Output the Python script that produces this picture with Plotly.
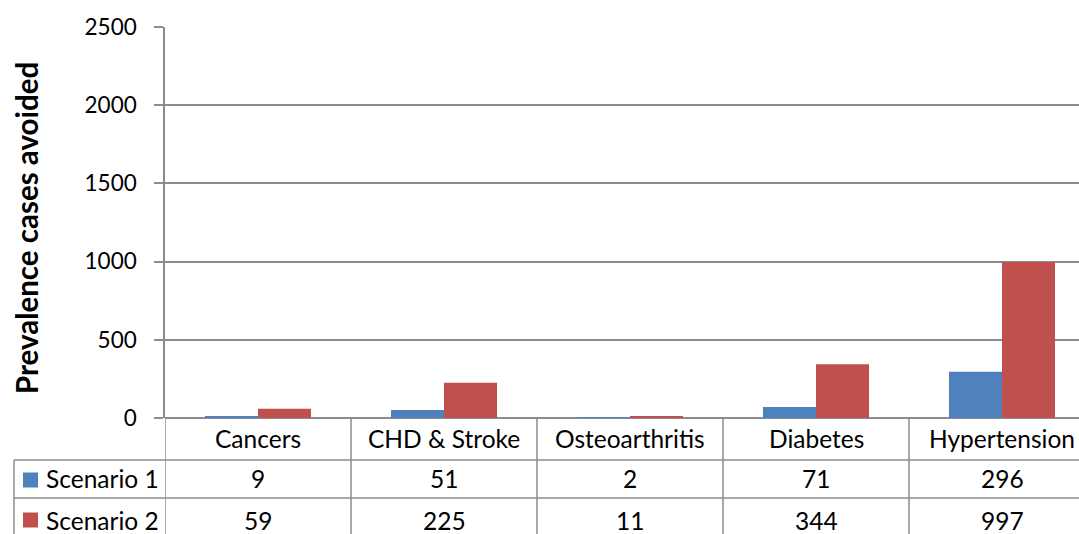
import plotly.graph_objects as go

categories = ["Cancers", "CHD & Stroke", "Osteoarthritis", "Diabetes", "Hypertension"]
series_names = ["Scenario 1", "Scenario 2"]
scenario1 = [9, 51, 2, 71, 296]
scenario2 = [59, 225, 11, 344, 997]
y_ticks = [0, 500, 1000, 1500, 2000, 2500]

colors = ["#4F81BD", "#C0504D"]
grid = "#8C8C8C"
FONT = "Lato"

W, H = 1079, 534
L, R, T, B = 165, 0, 27, 116
PW = W - L - R
PH = H - T - B


def px_to_py(py):
    return (H - B - py) / PH


def px_to_px(px):
    return (px - L) / PW


fig = go.Figure()
for name, vals, c in zip(series_names, [scenario1, scenario2], colors):
    fig.add_trace(go.Bar(x=list(range(len(categories))), y=vals, name=name,
                         marker=dict(color=c, line=dict(width=0)), showlegend=False))

n = len(categories)
xr = [-0.5, -0.5 + PW / 186.0]

shapes = []
line = dict(color=grid, width=1.5)
for py in [460, 498]:
    shapes.append(dict(type="line", xref="paper", yref="paper", x0=px_to_px(14), x1=1,
                       y0=px_to_py(py), y1=px_to_py(py), line=line))
for i in range(n + 1):
    shapes.append(dict(type="line", xref="x", yref="paper", x0=i - 0.5, x1=i - 0.5,
                       y0=0, y1=px_to_py(H + 10), line=line))
shapes.append(dict(type="line", xref="paper", yref="paper", x0=px_to_px(14), x1=px_to_px(14),
                   y0=px_to_py(460), y1=px_to_py(H + 10), line=line))
for j, c in enumerate(colors):
    cy = [480, 520][j]
    shapes.append(dict(type="rect", xref="paper", yref="paper",
                       x0=px_to_px(23), x1=px_to_px(38), y0=px_to_py(cy - 7.5), y1=px_to_py(cy + 7.5),
                       fillcolor=c, line=dict(width=0)))

ann = []
tf = dict(family=FONT, size=24.5, color="#000000")
for i, cat in enumerate(categories):
    ann.append(dict(x=i, y=px_to_py(439), xref="x", yref="paper", text=cat, showarrow=False,
                    xanchor="center", yanchor="middle", font=tf))
for j, vals in enumerate([scenario1, scenario2]):
    cy = [479, 520][j]
    for i, v in enumerate(vals):
        ann.append(dict(x=i, y=px_to_py(cy), xref="x", yref="paper", text=str(v), showarrow=False,
                        xanchor="center", yanchor="middle", font=tf))
    ann.append(dict(x=px_to_px(44), y=px_to_py(cy), xref="paper", yref="paper", text=series_names[j],
                    showarrow=False, xanchor="left", yanchor="middle", font=tf))
ann.append(dict(x=px_to_px(26), y=px_to_py(228), xref="paper", yref="paper",
                text="<b>Prevalence cases avoided</b>", textangle=-90, showarrow=False,
                xanchor="center", yanchor="middle", font=dict(family=FONT, size=29.5, color="#000")))

fig.update_layout(
    width=W, height=H,
    margin=dict(l=L, r=R, t=T, b=B, pad=0),
    paper_bgcolor="white", plot_bgcolor="white",
    barmode="group", bargap=0.43, bargroupgap=0,
    shapes=shapes, annotations=ann,
    font=dict(family=FONT, size=24, color="#000"),
)
fig.update_xaxes(range=xr, showticklabels=False, showgrid=False, zeroline=False,
                 showline=False, ticks="")
fig.update_yaxes(range=[0, 2500], tickvals=y_ticks, ticktext=[str(v) for v in y_ticks],
                 showgrid=True, gridcolor=grid, gridwidth=1.5, zeroline=True,
                 zerolinecolor=grid, zerolinewidth=1.5,
                 showline=True, linecolor=grid, linewidth=1.5,
                 ticks="outside", ticklen=9, tickcolor=grid, tickwidth=1.5,
                 ticklabelstandoff=13, tickfont=dict(family=FONT, size=22.5, color="#000"))

fig.write_html("out.html", config={"displayModeBar": False},
               post_script="document.body.style.margin='0';document.body.style.overflow='hidden';")
